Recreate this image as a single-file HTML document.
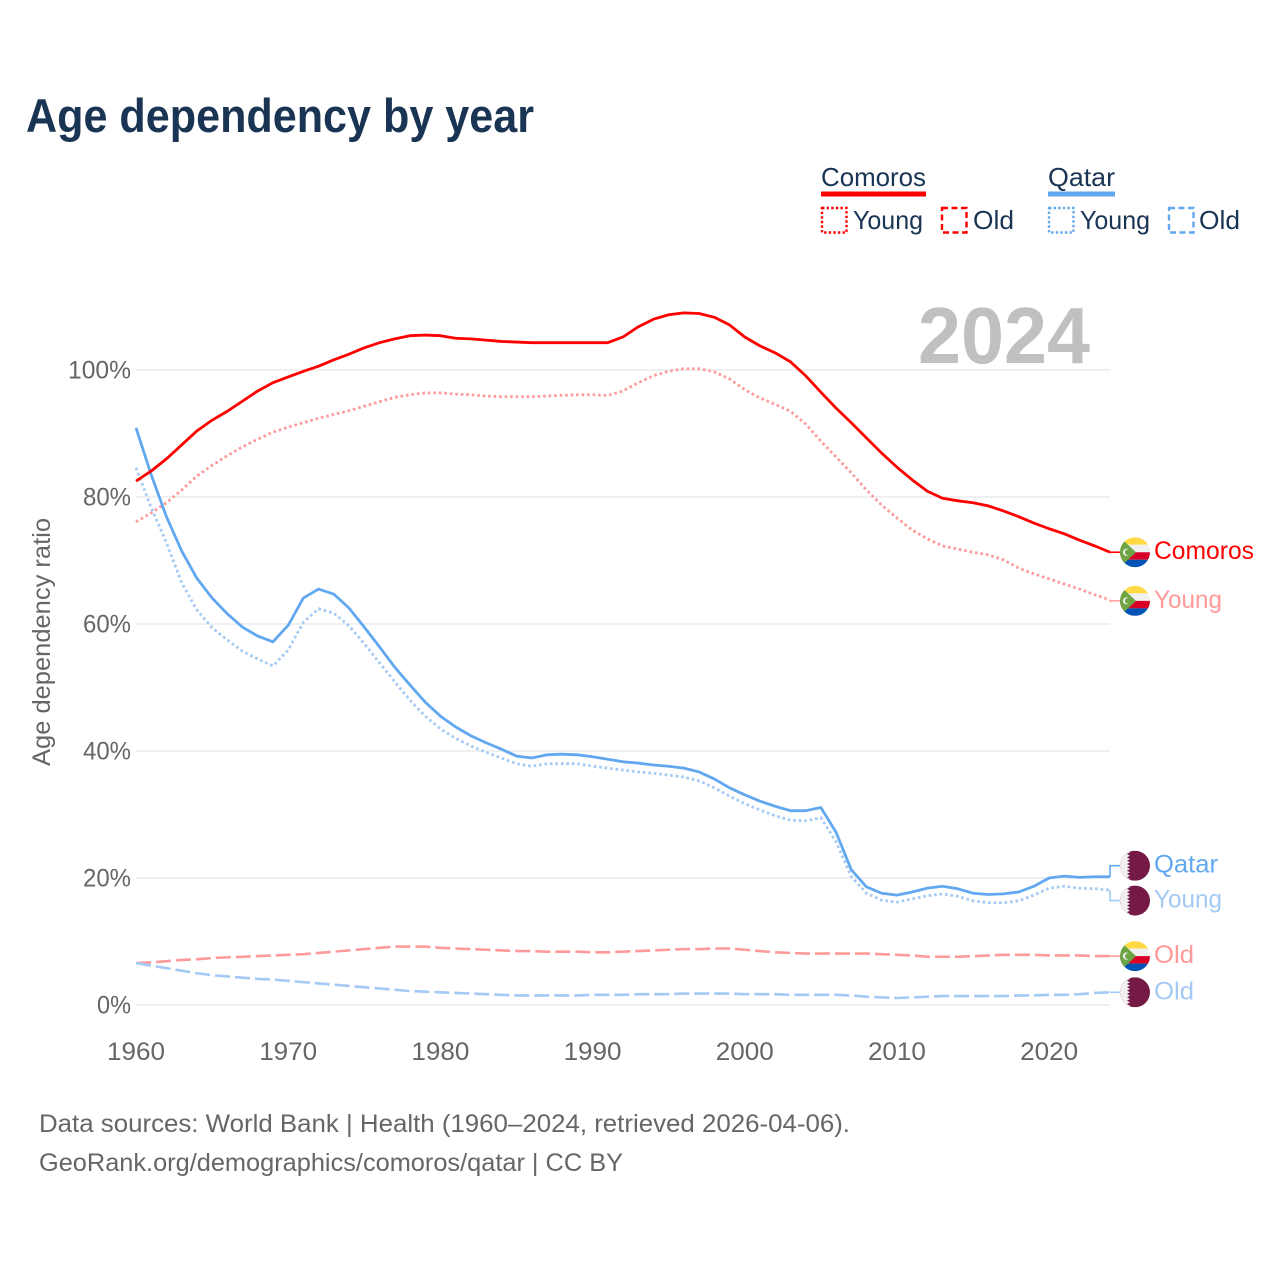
<!DOCTYPE html>
<html lang="en">
<head>
<meta charset="utf-8">
<title>Age dependency by year</title>
<style>
html,body{margin:0;padding:0;background:#fff;}
svg{display:block;font-family:"Liberation Sans",sans-serif;}
</style>
</head>
<body>
<svg id="chart" width="1280" height="1280" viewBox="0 0 1280 1280" xmlns="http://www.w3.org/2000/svg">
  <defs>
    <clipPath id="flag-clip"><circle cx="0" cy="0" r="15"/></clipPath>
    <g id="flag-comoros" clip-path="url(#flag-clip)">
      <rect x="-15" y="-15" width="30" height="7.5" fill="#ffda44"/>
      <rect x="-15" y="-7.5" width="30" height="7.5" fill="#f0f0f0"/>
      <rect x="-15" y="0" width="30" height="7.5" fill="#d80027"/>
      <rect x="-15" y="7.5" width="30" height="7.5" fill="#0052b4"/>
      <polygon points="-15,-15 1,0 -15,15" fill="#6da544"/>
      <circle cx="-8.5" cy="0" r="3.6" fill="#f0f0f0"/>
      <circle cx="-7" cy="0" r="3" fill="#6da544"/>
    </g>
    <g id="flag-qatar" clip-path="url(#flag-clip)">
      <rect x="-15" y="-15" width="30" height="30" fill="#751a46"/>
      <polygon points="-15,-15 -8,-15 -5,-13.4 -8,-11.7 -5,-10 -8,-8.3 -5,-6.7 -8,-5 -5,-3.3 -8,-1.7 -5,0 -8,1.7 -5,3.3 -8,5 -5,6.7 -8,8.3 -5,10 -8,11.7 -5,13.4 -8,15 -15,15" fill="#f0f0f0"/>
    </g>
  </defs>

  <text x="26" y="132" font-size="47" font-weight="700" fill="#1a3553" textLength="508" lengthAdjust="spacingAndGlyphs">Age dependency by year</text>

  <g>
    <text x="821" y="186" font-size="26" fill="#1a3553" textLength="105" lengthAdjust="spacingAndGlyphs">Comoros</text>
    <rect x="821" y="191.5" width="105" height="5" fill="#ff0000"/>
    <rect x="822" y="208" width="24.500" height="24.500" fill="none" stroke="#ff0000" stroke-width="2.4" stroke-dasharray="2.4 2.2"/>
    <text x="853" y="229" font-size="26" fill="#1a3553" textLength="70" lengthAdjust="spacingAndGlyphs">Young</text>
    <rect x="942" y="208" width="24.500" height="24.500" fill="none" stroke="#ff0000" stroke-width="2.4" stroke-dasharray="6 3.5"/>
    <text x="973" y="229" font-size="26" fill="#1a3553" textLength="41" lengthAdjust="spacingAndGlyphs">Old</text>
    <text x="1048" y="186" font-size="26" fill="#1a3553" textLength="67" lengthAdjust="spacingAndGlyphs">Qatar</text>
    <rect x="1048" y="191.5" width="67" height="5" fill="#62a8f0"/>
    <rect x="1049" y="208" width="24.500" height="24.500" fill="none" stroke="#62a8f0" stroke-width="2.4" stroke-dasharray="2.4 2.2"/>
    <text x="1080" y="229" font-size="26" fill="#1a3553" textLength="70" lengthAdjust="spacingAndGlyphs">Young</text>
    <rect x="1169" y="208" width="24.500" height="24.500" fill="none" stroke="#62a8f0" stroke-width="2.4" stroke-dasharray="6 3.5"/>
    <text x="1199" y="229" font-size="26" fill="#1a3553" textLength="41" lengthAdjust="spacingAndGlyphs">Old</text>
  </g>

  <g id="grid"></g>
  <text x="1090" y="363" text-anchor="end" font-size="80" font-weight="700" fill="#c0c0c0" textLength="172" lengthAdjust="spacingAndGlyphs">2024</text>
  <g id="axes"></g>
  <text transform="translate(50,642) rotate(-90)" text-anchor="middle" font-size="25" fill="#666666" textLength="248" lengthAdjust="spacingAndGlyphs">Age dependency ratio</text>
  <g id="series"></g>
  <g id="labels"></g>

  <text x="39" y="1132" font-size="25" fill="#666666" textLength="811" lengthAdjust="spacingAndGlyphs">Data sources: World Bank | Health (1960–2024, retrieved 2026-04-06).</text>
  <text x="39" y="1171" font-size="25" fill="#666666" textLength="584" lengthAdjust="spacingAndGlyphs">GeoRank.org/demographics/comoros/qatar | CC BY</text>
</svg>
<script>
const firstYear = 1960;
const yTicks = [0, 20, 40, 60, 80, 100];
const xTicks = [1960, 1970, 1980, 1990, 2000, 2010, 2020];

const comorosTotal = [
  82.5,84.1,86.0,88.2,90.4,92.1,93.5,95.1,96.7,98.0,
  98.9,99.8,100.6,101.6,102.5,103.5,104.3,104.9,105.4,105.5,
  105.4,105.0,104.9,104.7,104.5,104.4,104.3,104.3,104.3,104.3,
  104.3,104.3,105.2,106.8,108.0,108.7,109.0,108.9,108.3,107.1,
  105.2,103.8,102.7,101.3,99.1,96.5,94.0,91.7,89.3,86.9,
  84.7,82.7,80.9,79.8,79.4,79.1,78.6,77.8,76.9,75.9,
  75.0,74.2,73.2,72.3,71.3];
const comorosYoung = [
  76.1,77.5,79.1,81.1,83.3,85.0,86.5,87.9,89.1,90.2,
  91.0,91.7,92.4,93.0,93.6,94.3,95.0,95.7,96.1,96.4,
  96.4,96.2,96.1,95.9,95.8,95.8,95.8,95.9,96.0,96.1,
  96.1,96.0,96.7,98.0,99.1,99.8,100.2,100.2,99.7,98.6,
  96.9,95.6,94.6,93.5,91.5,88.8,86.3,83.8,81.1,78.7,
  76.7,74.8,73.4,72.3,71.8,71.3,70.9,70.1,68.8,67.9,
  67.1,66.3,65.5,64.6,63.8];
const comorosOld = [
  6.6,6.7,6.9,7.1,7.2,7.4,7.5,7.6,7.7,7.8,
  7.9,8.0,8.2,8.4,8.6,8.8,9.0,9.2,9.2,9.2,
  9.0,8.9,8.8,8.7,8.6,8.5,8.5,8.4,8.4,8.4,
  8.3,8.3,8.4,8.5,8.6,8.7,8.8,8.8,8.9,8.9,
  8.7,8.5,8.3,8.2,8.1,8.1,8.1,8.1,8.1,8.0,
  7.9,7.8,7.6,7.6,7.6,7.7,7.8,7.9,7.9,7.9,
  7.8,7.8,7.8,7.7,7.7];
const qatarTotal = [
  90.9,83.5,76.9,71.5,67.2,64.1,61.6,59.5,58.1,57.2,
  59.8,64.1,65.5,64.7,62.5,59.5,56.4,53.2,50.4,47.7,
  45.5,43.8,42.4,41.3,40.3,39.2,38.9,39.4,39.5,39.4,
  39.1,38.7,38.3,38.1,37.8,37.6,37.3,36.7,35.6,34.2,
  33.1,32.1,31.3,30.6,30.6,31.1,27.2,21.3,18.6,17.6,
  17.3,17.8,18.4,18.7,18.3,17.6,17.4,17.5,17.8,18.7,
  20.0,20.3,20.1,20.2,20.2];
const qatarYoung = [
  84.6,78.3,72.8,66.5,62.2,59.4,57.5,55.7,54.5,53.4,
  55.9,60.3,62.4,61.7,59.7,56.9,53.9,50.9,48.0,45.5,
  43.5,42.0,40.8,39.8,38.9,38.0,37.6,38.0,38.0,38.0,
  37.6,37.3,37.0,36.7,36.5,36.2,35.9,35.3,34.2,32.9,
  31.7,30.7,29.8,29.1,29.0,29.5,25.7,20.2,17.6,16.5,
  16.2,16.7,17.2,17.5,17.1,16.4,16.1,16.1,16.4,17.3,
  18.4,18.7,18.4,18.3,18.1];
const qatarOld = [
  6.6,6.2,5.8,5.4,5.0,4.7,4.5,4.3,4.1,4.0,
  3.8,3.6,3.4,3.2,3.0,2.8,2.6,2.4,2.2,2.1,
  2.0,1.9,1.8,1.7,1.6,1.5,1.5,1.5,1.5,1.5,
  1.6,1.6,1.6,1.7,1.7,1.7,1.8,1.8,1.8,1.8,
  1.7,1.7,1.7,1.6,1.6,1.6,1.6,1.5,1.3,1.2,
  1.1,1.2,1.3,1.4,1.4,1.4,1.4,1.4,1.5,1.5,
  1.6,1.6,1.7,1.9,2.0];

const NS = 'http://www.w3.org/2000/svg';
function xScale(year) { return 136 + (year - 1960) * (974 / 64); }
function yScale(value) { return 1005 - value * 6.35; }
function make(tag, attrs, parent, text) {
  const el = document.createElementNS(NS, tag);
  for (const k in attrs) el.setAttribute(k, attrs[k]);
  if (text !== undefined) el.textContent = text;
  parent.appendChild(el);
  return el;
}

const gridG = document.getElementById('grid');
const axesG = document.getElementById('axes');
const seriesG = document.getElementById('series');
const labelsG = document.getElementById('labels');

yTicks.forEach(function (t) {
  const line = make('line', {x1: 136, x2: 1110, y1: yScale(t), y2: yScale(t), stroke: '#e8e8e8', 'stroke-width': 1.2}, gridG);
  
  
  const label = t + '%';
  const tick = make('text', {x: 131, y: yScale(t) + 8.5, 'text-anchor': 'end', 'font-size': 25, fill: '#666666', textLength: label.length === 4 ? 63 : (label.length === 3 ? 48 : 34), lengthAdjust: 'spacingAndGlyphs'}, axesG, label);
  
  
});
xTicks.forEach(function (t) {
  const tick = make('text', {x: xScale(t), y: 1060, 'text-anchor': 'middle', 'font-size': 25, fill: '#666666', textLength: 58, lengthAdjust: 'spacingAndGlyphs'}, axesG, String(t));
  
  
});

const DOT = '2.6 2.9';
const DASH = '15 5';
const seriesDefs = [
  {key: 'comoros-old', values: comorosOld, color: '#ff9a9a', width: 2.6, dash: DASH, label: 'Old', labelW: 40, flag: 'flag-comoros', shift: 0},
  {key: 'qatar-old', values: qatarOld, color: '#a3caf5', width: 2.6, dash: DASH, label: 'Old', labelW: 40, flag: 'flag-qatar', shift: 0},
  {key: 'comoros-young', values: comorosYoung, color: '#ff9a9a', width: 2.8, dash: DOT, label: 'Young', labelW: 68, flag: 'flag-comoros', shift: 1},
  {key: 'qatar-young', values: qatarYoung, color: '#a3caf5', width: 2.8, dash: DOT, label: 'Young', labelW: 68, flag: 'flag-qatar', shift: 10.5},
  {key: 'qatar-total', values: qatarTotal, color: '#62a8f0', width: 2.8, dash: null, label: 'Qatar', labelW: 64, flag: 'flag-qatar', shift: -11},
  {key: 'comoros-total', values: comorosTotal, color: '#ff0000', width: 2.8, dash: null, label: 'Comoros', labelW: 100, flag: 'flag-comoros', shift: 0}
];

seriesDefs.forEach(function (s) {
  const pts = s.values.map(function (v, i) { return xScale(firstYear + i).toFixed(2) + ',' + yScale(v).toFixed(2); }).join(' ');
  const attrs = {points: pts, fill: 'none', stroke: s.color, 'stroke-width': s.width, 'stroke-linejoin': 'round'};
  if (s.dash) attrs['stroke-dasharray'] = s.dash;
  const line = make('polyline', attrs, seriesG);
  
  

  const last = s.values[s.values.length - 1];
  const endX = xScale(firstYear + s.values.length - 1);
  const endY = yScale(last);
  const labelY = endY + s.shift;
  const conn = make('polyline', {points: endX + ',' + endY + ' ' + endX + ',' + labelY + ' ' + (endX + 10) + ',' + labelY, fill: 'none', stroke: s.color, 'stroke-width': 1.6}, labelsG);
  
  

  const flag = make('use', {href: '#' + s.flag, transform: 'translate(1135,' + labelY + ')'}, labelsG);
  
  

  const txt = make('text', {x: 1154, y: labelY + 7, 'font-size': 25, fill: s.color, textLength: s.labelW, lengthAdjust: 'spacingAndGlyphs'}, labelsG, s.label);
  
  
});
</script>
</body>
</html>
